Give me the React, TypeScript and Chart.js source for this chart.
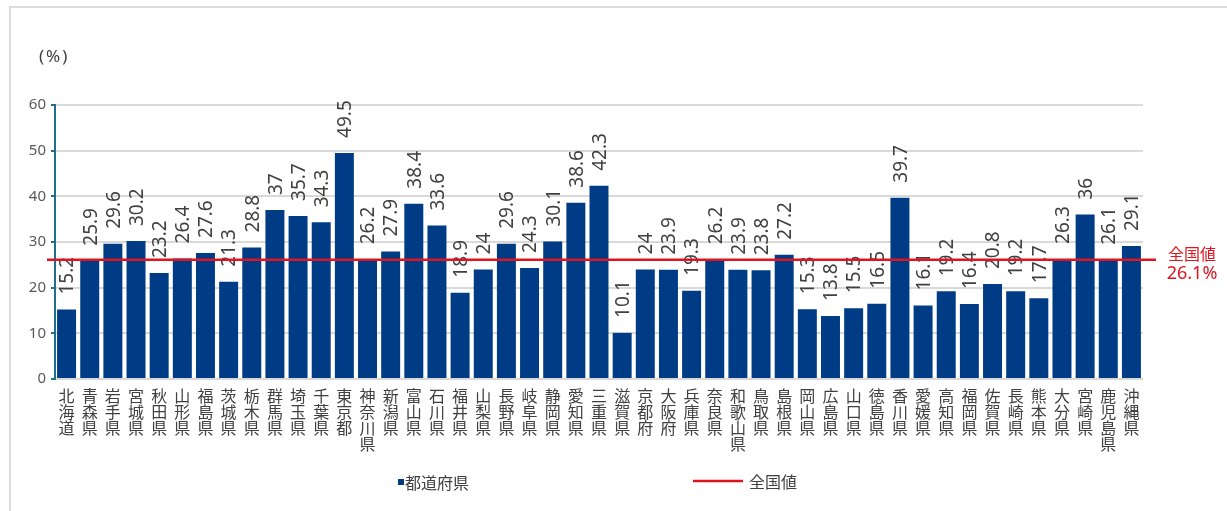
import React, { useEffect, useRef } from "react";
import { Chart, registerables } from "chart.js";

Chart.register(...registerables);

const prefectures = [
  "北海道", "青森県", "岩手県", "宮城県", "秋田県", "山形県", "福島県", "茨城県", "栃木県", "群馬県",
  "埼玉県", "千葉県", "東京都", "神奈川県", "新潟県", "富山県", "石川県", "福井県", "山梨県", "長野県",
  "岐阜県", "静岡県", "愛知県", "三重県", "滋賀県", "京都府", "大阪府", "兵庫県", "奈良県", "和歌山県",
  "鳥取県", "島根県", "岡山県", "広島県", "山口県", "徳島県", "香川県", "愛媛県", "高知県", "福岡県",
  "佐賀県", "長崎県", "熊本県", "大分県", "宮崎県", "鹿児島県", "沖縄県",
];

const rates = [
  15.2, 25.9, 29.6, 30.2, 23.2, 26.4, 27.6, 21.3, 28.8, 37,
  35.7, 34.3, 49.5, 26.2, 27.9, 38.4, 33.6, 18.9, 24, 29.6,
  24.3, 30.1, 38.6, 42.3, 10.1, 24, 23.9, 19.3, 26.2, 23.9,
  23.8, 27.2, 15.3, 13.8, 15.5, 16.5, 39.7, 16.1, 19.2, 16.4,
  20.8, 19.2, 17.7, 26.3, 36, 26.1, 29.1,
];

const nationalRate = 26.1;
const yMin = 0;
const yMax = 60;
const yStep = 10;

const seriesLabel = "都道府県";
const nationalLabel = "全国値";
const unitLabel = "(%)";

const BAR_COLOR = "#003c85";
const RED = "#e0141e";
const TEXT = "#404040";
const CJK = '"Noto Sans CJK JP", "Noto Sans", sans-serif';
const LATIN = '"Noto Sans", "DejaVu Sans", sans-serif';

const overlayPlugin = {
  id: "overlay",
  afterDatasetsDraw(chart: any) {
    const ctx = chart.ctx as CanvasRenderingContext2D;
    const meta = chart.getDatasetMeta(0);
    const yScale = chart.scales.y;
    const { left, right } = chart.chartArea;

    // value labels (rotated)
    ctx.save();
    ctx.fillStyle = TEXT;
    ctx.font = `19px ${LATIN}`;
    ctx.textAlign = "left";
    ctx.textBaseline = "alphabetic";
    meta.data.forEach((bar: any, i: number) => {
      ctx.save();
      ctx.translate(bar.x, bar.y - 15);
      ctx.rotate(-Math.PI / 2);
      ctx.fillText(String(rates[i]), 0, 6.8);
      ctx.restore();
    });
    ctx.restore();

    // national line
    const ny = yScale.getPixelForValue(nationalRate);
    ctx.save();
    ctx.strokeStyle = RED;
    ctx.lineWidth = 2.5;
    ctx.beginPath();
    ctx.moveTo(left - 8, ny);
    ctx.lineTo(right + 13, ny);
    ctx.stroke();

    ctx.fillStyle = RED;
    ctx.textAlign = "center";
    ctx.textBaseline = "middle";
    ctx.font = `16px ${CJK}`;
    ctx.fillText(nationalLabel, right + 49, ny - 6);
    ctx.font = `18px ${LATIN}`;
    ctx.fillText(nationalRate.toFixed(1) + "%", right + 49, ny + 14);
    ctx.restore();
  },
  afterDraw(chart: any) {
    const ctx = chart.ctx as CanvasRenderingContext2D;
    ctx.save();
    // unit label
    ctx.fillStyle = TEXT;
    ctx.font = `17px ${LATIN}`;
    ctx.textAlign = "left";
    ctx.textBaseline = "middle";
    (ctx as any).letterSpacing = "2px";
    ctx.fillText(unitLabel, 39, 57);
    (ctx as any).letterSpacing = "0px";

    // legend
    ctx.fillStyle = BAR_COLOR;
    ctx.fillRect(398, 479, 6, 6);
    ctx.fillStyle = TEXT;
    ctx.font = `16px ${CJK}`;
    ctx.fillText(seriesLabel, 405, 483);

    ctx.strokeStyle = RED;
    ctx.lineWidth = 2.5;
    ctx.beginPath();
    ctx.moveTo(693, 481);
    ctx.lineTo(743, 481);
    ctx.stroke();
    ctx.fillStyle = TEXT;
    ctx.fillText(nationalLabel, 749, 482);
    ctx.restore();
  },
};

export default function App() {
  const canvasRef = useRef<HTMLCanvasElement | null>(null);

  useEffect(() => {
    if (!canvasRef.current) return;
    const chart = new Chart(canvasRef.current, {
      type: "bar",
      data: {
        labels: prefectures.map((p) => p.split("")),
        datasets: [
          {
            label: seriesLabel,
            data: rates,
            backgroundColor: BAR_COLOR,
            borderColor: "#d6deea",
            borderWidth: 0,
            barPercentage: 0.82,
            categoryPercentage: 1.0,
          },
        ],
      },
      options: {
        responsive: false,
        animation: false,
        devicePixelRatio: 1,
        layout: { padding: { left: 10, right: 84, top: 105, bottom: 0 } },
        plugins: {
          legend: { display: false },
          tooltip: { enabled: false },
          title: { display: false },
        },
        scales: {
          x: {
            grid: { display: false, drawTicks: false },
            border: { display: false },
            ticks: {
              autoSkip: false,
              maxRotation: 0,
              minRotation: 0,
              padding: 9,
              color: TEXT,
              font: { family: CJK, size: 16, lineHeight: 1 },
            },
            afterFit(scale: any) {
              scale.height = 132;
            },
          },
          y: {
            min: yMin,
            max: yMax,
            ticks: {
              stepSize: yStep,
              color: "#595959",
              padding: 5,
              font: { family: LATIN, size: 15 },
            },
            grid: {
              color: "#d9d9d9",
              lineWidth: 2,
              tickColor: "#1f6f8f",
              tickLength: 4,
            },
            border: { color: "#1f6f8f", width: 2 },
            afterFit(scale: any) {
              scale.width = 45;
            },
          },
        },
      },
      plugins: [overlayPlugin],
    });
    return () => chart.destroy();
  }, []);

  return (
    <div style={{ position: "fixed", left: 0, top: 0, width: 1227, height: 511, background: "#fff", overflow: "hidden" }}>
      <div
        style={{
          position: "absolute",
          left: 9,
          top: 6,
          width: 1300,
          height: 600,
          borderTop: "2px solid #dcdcdc",
          borderLeft: "2px solid #dcdcdc",
        }}
      />
      <canvas
        ref={canvasRef}
        width={1227}
        height={511}
        style={{ position: "absolute", left: 0, top: 0, width: 1227, height: 511 }}
      />
    </div>
  );
}
